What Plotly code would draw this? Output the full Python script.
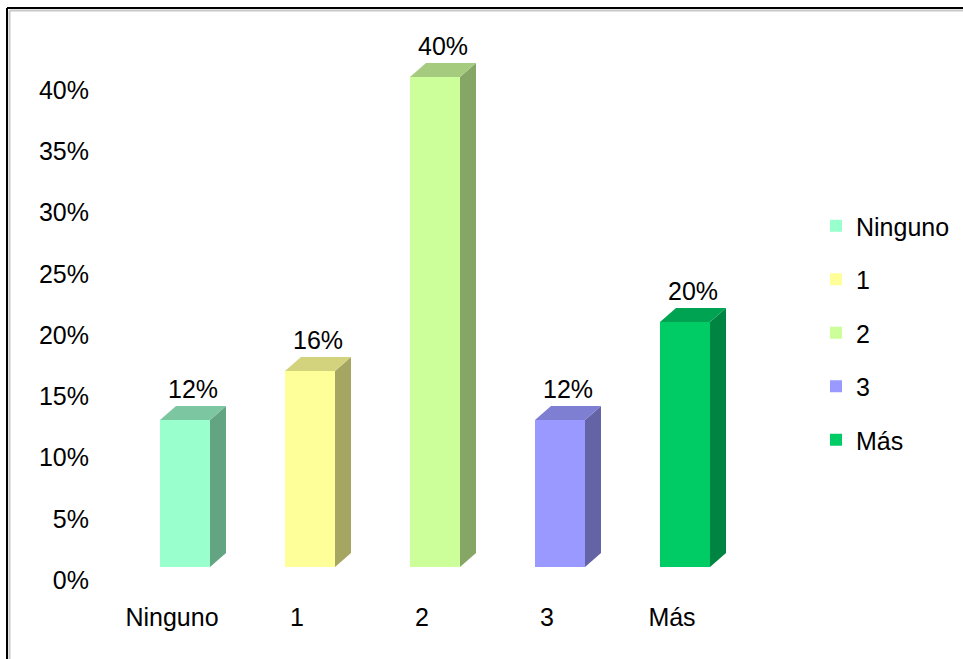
import plotly.graph_objects as go

categories = ["Ninguno", "1", "2", "3", "Más"]
values = [12, 16, 40, 12, 20]
labels = ["12%", "16%", "40%", "12%", "20%"]
front_colors = ["#99FFCC", "#FFFF99", "#CCFF99", "#9999FF", "#00CC66"]
side_colors = ["#63A582", "#A6A663", "#85A665", "#6363A6", "#008442"]
top_colors = ["#7CC7A2", "#D3D37E", "#A4CB7E", "#7E7ED3", "#00A352"]
y_ticks = [0, 5, 10, 15, 20, 25, 30, 35, 40]

FONT = "Liberation Sans, Arial, sans-serif"
FS = 25

# geometry (axis units)
L, R, T, B = 100, 163, 20, 59
W, H = 963, 659
pw, ph = W - L - R, H - T - B
x_range = [-0.576, -0.576 + pw / 125.0]
ppu_y = 12.25
y_range = [-(600 - 580) / ppu_y, -(600 - 580) / ppu_y + ph / ppu_y]

off = 0.104      # bar centre offset from category label
bw = 0.4         # bar width
dx = 16 / 125.0  # depth in x
dy = 14 / ppu_y  # depth in y
d = 13 / ppu_y   # floor lift of front face

fig = go.Figure()

for i, (c, v) in enumerate(zip(categories, values)):
    xc = i + off
    fig.add_trace(go.Bar(
        x=[xc], y=[v], base=[d], width=[bw], name=c,
        marker=dict(color=front_colors[i], line=dict(width=0)),
        legendgroup=c, showlegend=True, hoverinfo="skip"))

for i, (c, v) in enumerate(zip(categories, values)):
    xc = i + off
    xl, xr = xc - bw / 2, xc + bw / 2
    ytop = v + d
    # side face
    fig.add_trace(go.Scatter(
        x=[xr, xr + dx, xr + dx, xr, xr],
        y=[d, d + dy, ytop + dy, ytop, d],
        fill="toself", fillcolor=side_colors[i], mode="lines",
        line=dict(width=0, color=side_colors[i]),
        legendgroup=c, showlegend=False, hoverinfo="skip"))
    # top face
    fig.add_trace(go.Scatter(
        x=[xl, xr, xr + dx, xl + dx, xl],
        y=[ytop, ytop, ytop + dy, ytop + dy, ytop],
        fill="toself", fillcolor=top_colors[i], mode="lines",
        line=dict(width=0, color=top_colors[i]),
        legendgroup=c, showlegend=False, hoverinfo="skip"))
    fig.add_annotation(
        x=xc + dx / 2, y=ytop + dy, text=labels[i], showarrow=False,
        xanchor="center", yanchor="bottom", yshift=1,
        font=dict(family=FONT, size=FS, color="#000000"))

fig.update_layout(
    width=W, height=H,
    margin=dict(l=L, r=R, t=T, b=B, pad=0, autoexpand=False),
    paper_bgcolor="white", plot_bgcolor="white",
    barmode="overlay",
    font=dict(family=FONT, size=FS, color="#000000"),
    xaxis=dict(range=x_range, tickmode="array", tickvals=list(range(len(categories))),
               ticktext=categories, showgrid=False, zeroline=False, showline=False,
               ticks="", ticklabelstandoff=0, fixedrange=True),
    yaxis=dict(range=y_range, tickmode="array", tickvals=y_ticks,
               ticktext=[f"{t}%" for t in y_ticks], showgrid=False, zeroline=False,
               showline=False, ticks="", ticklabelstandoff=10, fixedrange=True),
    legend=dict(x=(816 - L) / pw, y=(600 - 203) / ph, xanchor="left", yanchor="top",
                font=dict(family=FONT, size=FS), tracegroupgap=18,
                itemwidth=30, bgcolor="rgba(0,0,0,0)", traceorder="grouped"),
    showlegend=True,
)

# outer frame: only top and left edges are inside the picture
px = lambda p: (p - L) / pw
py = lambda p: (600 - p) / ph
for off_px, col in [(2.5, "#C8C8C8"), (0, "#000000")]:
    fig.add_shape(type="line", xref="paper", yref="paper",
                  x0=px(7 + off_px), x1=px(W), y0=py(8 + off_px), y1=py(8 + off_px),
                  line=dict(color=col, width=2), layer="above")
    fig.add_shape(type="line", xref="paper", yref="paper",
                  x0=px(7 + off_px), x1=px(7 + off_px), y0=py(8 + off_px), y1=py(H),
                  line=dict(color=col, width=2), layer="above")

fig.write_html("out.html")
